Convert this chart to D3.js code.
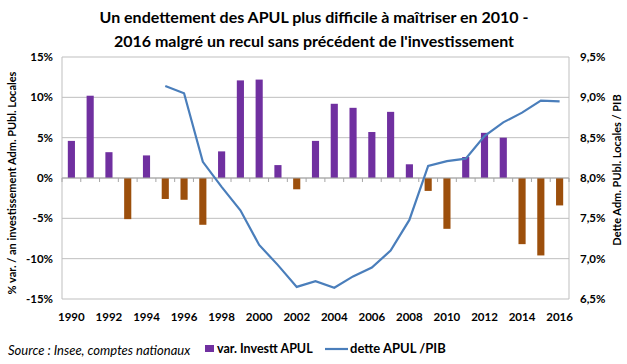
<!DOCTYPE html>
<html>
<head>
<meta charset="utf-8">
<script src="https://cdn.jsdelivr.net/npm/d3@7"></script>
<style>
body { margin: 0; background: #fff; }
text { font-family: Lato, "Open Sans", sans-serif; }
</style>
</head>
<body>
<div id="container"></div>
<script>
var years = d3.range(1990, 2017);
var invest = [4.6, 10.2, 3.2, -5.1, 2.8, -2.6, -2.7, -5.8, 3.3, 12.1, 12.2, 1.6, -1.4,
              4.6, 9.2, 8.7, 5.7, 8.2, 1.7, -1.6, -6.3, 2.6, 5.6, 5.0, -8.2, -9.6, -3.4];
var detteYears = d3.range(1995, 2017);
var dette = [9.14, 9.05, 8.20, 7.89, 7.60, 7.17, 6.92, 6.65, 6.72, 6.64, 6.78,
             6.89, 7.10, 7.48, 8.15, 8.21, 8.24, 8.52, 8.69, 8.81, 8.96, 8.95];
var leftTicks = [-15, -10, -5, 0, 5, 10, 15];
var rightTicks = [6.5, 7, 7.5, 8, 8.5, 9, 9.5];
var xLabels = d3.range(1990, 2017, 2);

var width = 627, height = 364;
var margin = {left: 62, right: 58, top: 57, bottom: 65};
var plotW = width - margin.left - margin.right,
    plotH = height - margin.top - margin.bottom;

var svg = d3.select('#container')
    .append('svg')
    .attr('width', width)
    .attr('height', height);

var scaleX = d3.scaleBand()
    .domain(years)
    .range([margin.left, margin.left + plotW])
    .paddingInner(0.62)
    .paddingOuter(0.31);

var scaleY = d3.scaleLinear()
    .domain([-15, 15])
    .range([margin.top + plotH, margin.top]);

var scaleY2 = d3.scaleLinear()
    .domain([6.5, 9.5])
    .range([margin.top + plotH, margin.top]);

var step = plotW / years.length;
function center(y) { return margin.left + (y - 1990 + 0.5) * step; }

// gridlines
svg.append('g')
    .selectAll('line')
    .data(leftTicks)
    .enter()
    .append('line')
    .attr('x1', margin.left)
    .attr('x2', margin.left + plotW)
    .attr('y1', function(d) { return scaleY(d); })
    .attr('y2', function(d) { return scaleY(d); })
    .style('stroke', '#bfbfbf')
    .style('stroke-width', 1);

// vertical borders
svg.append('line')
    .attr('x1', margin.left).attr('x2', margin.left)
    .attr('y1', margin.top).attr('y2', margin.top + plotH)
    .style('stroke', '#bfbfbf');
svg.append('line')
    .attr('x1', margin.left + plotW).attr('x2', margin.left + plotW)
    .attr('y1', margin.top).attr('y2', margin.top + plotH)
    .style('stroke', '#bfbfbf');

// bars
svg.append('g')
    .selectAll('rect')
    .data(invest)
    .enter()
    .append('rect')
    .attr('x', function(d, i) { return scaleX(years[i]); })
    .attr('width', scaleX.bandwidth())
    .attr('y', function(d) { return scaleY(Math.max(0, d)); })
    .attr('height', function(d) { return Math.abs(scaleY(d) - scaleY(0)); })
    .style('fill', function(d) { return d >= 0 ? '#7030a0' : '#9c4f0c'; });

// zero axis with ticks
svg.append('line')
    .attr('x1', margin.left).attr('x2', margin.left + plotW)
    .attr('y1', scaleY(0)).attr('y2', scaleY(0))
    .style('stroke', '#a6a6a6');
svg.append('g')
    .selectAll('line')
    .data(d3.range(years.length + 1))
    .enter()
    .append('line')
    .attr('x1', function(i) { return margin.left + i * step; })
    .attr('x2', function(i) { return margin.left + i * step; })
    .attr('y1', scaleY(0))
    .attr('y2', scaleY(0) + 4)
    .style('stroke', '#a6a6a6');

// line
var line = d3.line()
    .x(function(d, i) { return center(detteYears[i]); })
    .y(function(d) { return scaleY2(d); });
svg.append('path')
    .datum(dette)
    .attr('d', line)
    .style('fill', 'none')
    .style('stroke', '#4a7ebb')
    .style('stroke-width', 2.2);

// left tick labels
svg.append('g')
    .selectAll('text')
    .data(leftTicks)
    .enter()
    .append('text')
    .text(function(d) { return d + '%'; })
    .attr('x', margin.left - 9)
    .attr('y', function(d) { return scaleY(d); })
    .attr('dy', '0.35em')
    .attr('text-anchor', 'end')
    .style('font-size', '11.5px')
    .style('font-weight', 'bold');

// right tick labels
svg.append('g')
    .selectAll('text')
    .data(rightTicks)
    .enter()
    .append('text')
    .text(function(d) { return d.toFixed(1).replace('.', ',') + '%'; })
    .attr('x', margin.left + plotW + 11)
    .attr('y', function(d) { return scaleY2(d); })
    .attr('dy', '0.35em')
    .style('font-size', '11.5px')
    .style('font-weight', 'bold');

// x labels
svg.append('g')
    .selectAll('text')
    .data(xLabels)
    .enter()
    .append('text')
    .text(function(d) { return d; })
    .attr('x', function(d) { return center(d); })
    .attr('y', margin.top + plotH + 22)
    .attr('text-anchor', 'middle')
    .style('font-size', '11.5px')
    .style('font-weight', 'bold');

// axis titles
svg.append('text')
    .text('% var. / an investissement Adm. PUbl. Locales')
    .attr('transform', 'translate(16,' + (margin.top + plotH / 2 + 5) + ') rotate(-90)')
    .attr('text-anchor', 'middle')
    .style('font-size', '11px')
    .style('font-weight', 'bold');
svg.append('text')
    .text('Dette Adm. PUbl. Locales / PIB')
    .attr('transform', 'translate(621,' + (margin.top + plotH / 2 - 8) + ') rotate(-90)')
    .attr('text-anchor', 'middle')
    .style('font-size', '11px')
    .style('font-weight', 'bold');

// title
var title = ['Un endettement des APUL plus difficile à maîtriser en 2010 -',
             "2016 malgré un recul sans précédent de l'investissement"];
svg.append('g')
    .selectAll('text')
    .data(title)
    .enter()
    .append('text')
    .text(function(d) { return d; })
    .attr('x', 314)
    .attr('y', function(d, i) { return 23 + i * 24; })
    .attr('text-anchor', 'middle')
    .style('font-size', '16px')
    .style('font-weight', 'bold');

// source + legend
svg.append('text')
    .text('Source :  Insee, comptes nationaux')
    .attr('x', 8)
    .attr('y', 355)
    .style('font-size', '13px')
    .style('font-style', 'italic');
svg.append('rect')
    .attr('x', 205).attr('y', 345)
    .attr('width', 9).attr('height', 7)
    .style('fill', '#7030a0');
svg.append('text')
    .text('var. Investt APUL')
    .attr('x', 217).attr('y', 353)
    .style('font-size', '12.5px')
    .style('font-weight', 'bold');
svg.append('line')
    .attr('x1', 325).attr('x2', 348)
    .attr('y1', 349).attr('y2', 349)
    .style('stroke', '#4a7ebb')
    .style('stroke-width', 2.2);
svg.append('text')
    .text('dette APUL /PIB')
    .attr('x', 350).attr('y', 353)
    .style('font-size', '13px')
    .style('font-weight', 'bold');
</script>
</body>
</html>
